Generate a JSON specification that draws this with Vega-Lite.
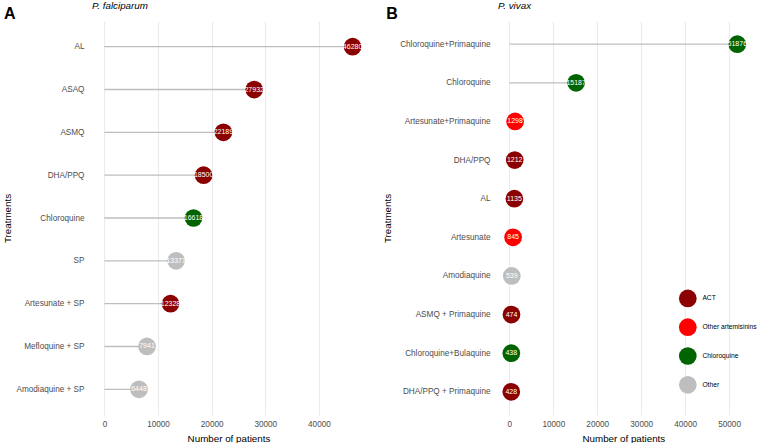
{
  "$schema": "https://vega.github.io/schema/vega-lite/v6.json",
  "padding": {"left": 2, "top": 0, "right": 0, "bottom": 0},
  "config": {
    "font": "Liberation Sans",
    "view": {"stroke": null},
    "axis": {
      "domain": false,
      "ticks": false,
      "tickSize": 0,
      "labelFontSize": 8.2,
      "labelColor": "#4D4D4D",
      "titleFontSize": 9.8,
      "titleFontWeight": "normal",
      "titleColor": "#000000"
    }
  },
  "datasets": {
    "falciparum": [
      {"treatment": "AL", "n": 46280, "category": "ACT"},
      {"treatment": "ASAQ", "n": 27932, "category": "ACT"},
      {"treatment": "ASMQ", "n": 22189, "category": "ACT"},
      {"treatment": "DHA/PPQ", "n": 18500, "category": "ACT"},
      {"treatment": "Chloroquine", "n": 16618, "category": "Chloroquine"},
      {"treatment": "SP", "n": 13371, "category": "Other"},
      {"treatment": "Artesunate + SP", "n": 12328, "category": "ACT"},
      {"treatment": "Mefloquine + SP", "n": 7941, "category": "Other"},
      {"treatment": "Amodiaquine + SP", "n": 6448, "category": "Other"}
    ],
    "vivax": [
      {"treatment": "Chloroquine+Primaquine", "n": 51876, "category": "Chloroquine"},
      {"treatment": "Chloroquine", "n": 15187, "category": "Chloroquine"},
      {"treatment": "Artesunate+Primaquine", "n": 1298, "category": "Other artemisinins"},
      {"treatment": "DHA/PPQ", "n": 1212, "category": "ACT"},
      {"treatment": "AL", "n": 1135, "category": "ACT"},
      {"treatment": "Artesunate", "n": 845, "category": "Other artemisinins"},
      {"treatment": "Amodiaquine", "n": 539, "category": "Other"},
      {"treatment": "ASMQ + Primaquine", "n": 474, "category": "ACT"},
      {"treatment": "Chloroquine+Bulaquine", "n": 438, "category": "Chloroquine"},
      {"treatment": "DHA/PPQ + Primaquine", "n": 428, "category": "ACT"}
    ]
  },
  "resolve": {"scale": {"color": "independent", "x": "independent", "y": "independent"}, "legend": {"color": "independent"}},
  "spacing": 17,
  "hconcat": [
    {
      "title": {"text": "A", "fontSize": 16, "fontWeight": "bold", "anchor": "start", "frame": "bounds", "baseline": "alphabetic", "offset": -34.6, "dx": 1, "color": "#000000"},
      "vconcat": [
        {
          "title": {"text": "P. falciparum", "fontSize": 9.8, "fontStyle": "italic", "fontWeight": "normal", "anchor": "start", "frame": "group", "baseline": "alphabetic", "offset": 2.7, "color": "#000000"},
          "width": 273,
          "height": 394,
          "data": {"name": "falciparum"},
          "encoding": {
            "y": {"field": "treatment", "type": "nominal", "sort": null, "scale": {"type": "point", "padding": 0.6},
              "axis": {"title": "Treatments", "labelPadding": 8, "titlePadding": 3, "grid": false}}
          },
          "layer": [
            {
              "mark": {"type": "rule", "color": "#BEBEBE", "strokeWidth": 1.3},
              "encoding": {
                "x": {"field": "n", "type": "quantitative",
                  "scale": {"domain": [-2314, 48594], "nice": false, "zero": false},
                  "axis": {"title": "Number of patients", "values": [0, 5000, 10000, 15000, 20000, 25000, 30000, 35000, 40000, 45000],
                    "labelExpr": "datum.value % 10000 === 0 ? datum.label : ''", "format": "d",
                    "labelPadding": 5, "titlePadding": 6, "grid": true, "gridColor": "#EBEBEB",
                    "gridWidth": {"condition": {"test": "datum.value % 10000 === 0", "value": 1.1}, "value": 0.6}}},
                "x2": {"datum": 0}
              }
            },
            {
              "mark": {"type": "circle", "opacity": 1, "size": 314},
              "encoding": {
                "x": {"field": "n", "type": "quantitative"},
                "color": {"field": "category", "type": "nominal",
                  "scale": {"domain": ["ACT", "Other artemisinins", "Chloroquine", "Other"], "range": ["#8B0000", "#FF0000", "#006400", "#BEBEBE"]},
                  "legend": null}
              }
            },
            {
              "mark": {"type": "text", "color": "#FFFFFF", "fontSize": 7},
              "encoding": {
                "x": {"field": "n", "type": "quantitative"},
                "text": {"field": "n", "type": "quantitative", "format": "d"}
              }
            }
          ]
        }
      ]
    },
    {
      "title": {"text": "B", "fontSize": 16, "fontWeight": "bold", "anchor": "start", "frame": "bounds", "baseline": "alphabetic", "offset": -34.6, "dx": 3.5, "color": "#000000"},
      "vconcat": [
        {
          "title": {"text": "P. vivax", "fontSize": 9.8, "fontStyle": "italic", "fontWeight": "normal", "anchor": "start", "frame": "group", "baseline": "alphabetic", "offset": 2.7, "color": "#000000"},
          "width": 250.7,
          "height": 394,
          "data": {"name": "vivax"},
          "encoding": {
            "y": {"field": "treatment", "type": "nominal", "sort": null, "scale": {"type": "point", "padding": 0.6},
              "axis": {"title": "Treatments", "labelPadding": 8, "titlePadding": 7, "grid": false}}
          },
          "layer": [
            {
              "mark": {"type": "rule", "color": "#BEBEBE", "strokeWidth": 1.3},
              "encoding": {
                "x": {"field": "n", "type": "quantitative",
                  "scale": {"domain": [-2594, 54470], "nice": false, "zero": false},
                  "axis": {"title": "Number of patients", "values": [0, 5000, 10000, 15000, 20000, 25000, 30000, 35000, 40000, 45000, 50000],
                    "labelExpr": "datum.value % 10000 === 0 ? datum.label : ''", "format": "d",
                    "labelPadding": 5, "titlePadding": 6, "grid": true, "gridColor": "#EBEBEB",
                    "gridWidth": {"condition": {"test": "datum.value % 10000 === 0", "value": 1.1}, "value": 0.6}}},
                "x2": {"datum": 0}
              }
            },
            {
              "mark": {"type": "circle", "opacity": 1, "size": 314},
              "encoding": {
                "x": {"field": "n", "type": "quantitative"},
                "color": {"field": "category", "type": "nominal",
                  "scale": {"domain": ["ACT", "Other artemisinins", "Chloroquine", "Other"], "range": ["#8B0000", "#FF0000", "#006400", "#BEBEBE"]},
                  "legend": {"title": null, "orient": "none", "legendX": 180.8, "legendY": 268.4, "symbolType": "circle", "symbolSize": 314,
                    "symbolStrokeWidth": 0, "symbolOpacity": 1, "labelFontSize": 6.7, "labelColor": "#000000", "labelOffset": 5.6, "rowPadding": 10.8, "padding": 0}}
              }
            },
            {
              "mark": {"type": "text", "color": "#FFFFFF", "fontSize": 7},
              "encoding": {
                "x": {"field": "n", "type": "quantitative"},
                "text": {"field": "n", "type": "quantitative", "format": "d"}
              }
            }
          ]
        }
      ]
    }
  ]
}
